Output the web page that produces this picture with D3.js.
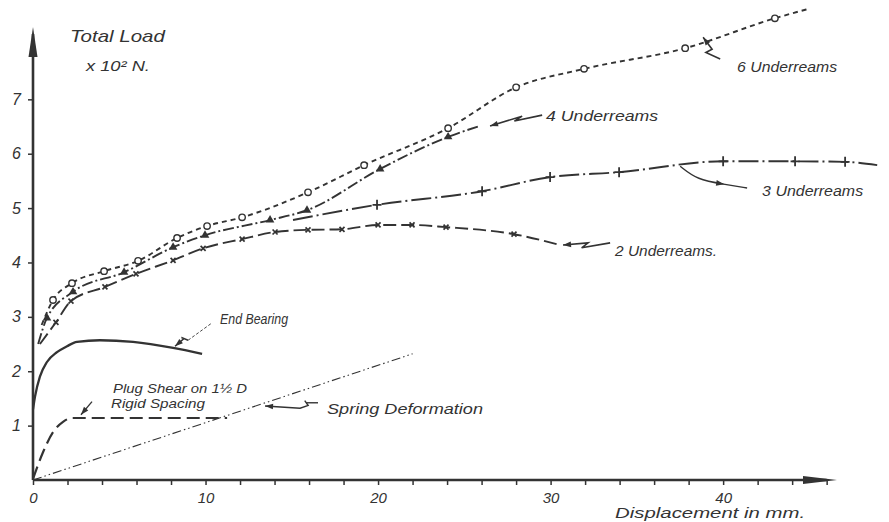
<!DOCTYPE html>
<html>
<head>
<meta charset="utf-8">
<script src="https://cdn.jsdelivr.net/npm/d3@7/dist/d3.min.js"></script>
<style>
  html, body { margin: 0; padding: 0; background: #ffffff; }
  svg { display: block; }
  text { font-family: "Liberation Sans", "DejaVu Sans", sans-serif; font-style: italic; fill: #333; }
</style>
</head>
<body>
<svg id="chart" width="889" height="522"></svg>
<script>
// ---------------- DATA (displacement in mm, total load x10^2 N) ----------------
const yTickValues = [1, 2, 3, 4, 5, 6, 7];
const xTickValues = [0, 2, 4, 6, 8, 10, 12, 14, 16, 18, 20, 22, 24, 26, 28, 30, 32, 34, 36, 38, 40, 42, 44, 46];
const xTickLabels = ["0", "10", "20", "30", "40"];

const sixUnderreams = [
  [0.5, 2.85], [1.16, 3.31], [2.26, 3.62], [4.12, 3.84], [6.09, 4.03], [8.35, 4.45],
  [10.09, 4.67], [12.12, 4.83], [15.94, 5.29], [19.19, 5.79], [24.06, 6.47],
  [28.0, 7.22], [31.94, 7.56], [37.8, 7.94], [43.0, 8.49], [44.9, 8.66]
];
const sixMarked = [1, 1, 1, 1, 1, 1, 1, 1, 1, 1, 1, 1, 1, 1, 1, 0].map((m, i) => (i === 0 ? 0 : m));

const fourUnderreams = [
  [0.3, 2.5], [0.81, 2.98], [2.32, 3.46], [5.28, 3.82], [8.12, 4.28], [9.97, 4.5],
  [13.74, 4.78], [15.88, 4.96], [20.12, 5.72], [24.06, 6.31], [25.9, 6.51]
];
const fourMarked = [0, 1, 1, 1, 1, 1, 1, 1, 1, 1, 0];

const threeUnderreams = [
  [15.07, 4.78], [19.94, 5.06], [26.03, 5.31], [29.97, 5.57], [33.97, 5.66],
  [40.0, 5.86], [44.17, 5.86], [47.07, 5.85], [48.93, 5.79]
];
const threeMarked = [0, 1, 1, 1, 1, 1, 1, 1, 0];

const twoUnderreams = [
  [0.4, 2.5], [1.33, 2.9], [2.2, 3.29], [4.17, 3.55], [5.97, 3.79], [8.12, 4.04],
  [9.86, 4.26], [12.12, 4.43], [14.03, 4.56], [15.94, 4.6], [17.91, 4.61],
  [20.0, 4.69], [21.97, 4.69], [23.94, 4.65], [27.88, 4.52], [30.55, 4.32]
];
const twoMarked = [0, 1, 1, 1, 1, 1, 1, 1, 1, 1, 1, 1, 1, 1, 1, 0];

const endBearing = [
  [0, 1.3], [0.12, 1.54], [0.4, 1.9], [0.81, 2.17], [1.39, 2.35], [1.97, 2.46],
  [2.55, 2.54], [3.88, 2.57], [5.8, 2.54], [8.12, 2.43], [9.8, 2.32]
];

const plugShear = [
  [0, 0.02], [0.58, 0.51], [1.16, 0.88], [1.74, 1.07], [2.26, 1.14], [2.72, 1.14], [11.25, 1.14]
];

const springDeformation = [[0, 0], [22.0, 2.32]];

// ---------------- LAYOUT ----------------
const svg = d3.select("#chart");
const ink = "#333";
const x = d3.scaleLinear().domain([0, 46.6]).range([33, 837]);
const y = d3.scaleLinear().domain([0, 8.33]).range([480, 27]);

// axes
const xAxis = d3.axisBottom(x)
  .tickValues(xTickValues)
  .tickSize(5)
  .tickPadding(7)
  .tickFormat(d => (d % 10 === 0 ? xTickLabels[d / 10] : ""));
const gx = svg.append("g").attr("transform", `translate(0,${y(0)})`).call(xAxis);
gx.select(".domain").remove();
gx.selectAll(".tick line").attr("stroke", ink).attr("stroke-width", 1.5);
gx.selectAll(".tick text").attr("font-size", 15).attr("fill", ink)
  .style("font-family", "'Liberation Sans', sans-serif").style("font-style", "italic");

const yAxis = d3.axisLeft(y).tickValues(yTickValues).tickSize(5).tickPadding(7);
const gy = svg.append("g").attr("transform", `translate(${x(0)},0)`).call(yAxis);
gy.select(".domain").remove();
gy.selectAll(".tick line").attr("stroke", ink).attr("stroke-width", 1.5);
gy.selectAll(".tick text").attr("font-size", 16).attr("fill", ink)
  .style("font-family", "'Liberation Sans', sans-serif").style("font-style", "italic");

// axis lines with arrows
svg.append("line").attr("x1", x(0)).attr("y1", y(0)).attr("x2", x(0)).attr("y2", y(8.2))
  .attr("stroke", ink).attr("stroke-width", 2.6);
svg.append("path")
  .attr("d", `M${x(0)},${y(8.33)} L${x(0) - 4.5},${y(8.33) + 30} L${x(0) + 4.5},${y(8.33) + 30} Z`)
  .attr("fill", ink);
svg.append("line").attr("x1", x(0)).attr("y1", y(0)).attr("x2", x(46.0)).attr("y2", y(0))
  .attr("stroke", ink).attr("stroke-width", 2.6);
svg.append("path")
  .attr("d", `M${x(46.6)},${y(0)} L${x(46.6) - 34},${y(0) - 4} L${x(46.6) - 34},${y(0) + 4} Z`)
  .attr("fill", ink);

// series
const lineGen = d3.line().x(d => x(d[0])).y(d => y(d[1])).curve(d3.curveMonotoneX);

function drawSeries(data, dash, width) {
  svg.append("path").datum(data).attr("d", lineGen)
    .attr("fill", "none").attr("stroke", ink).attr("stroke-width", width)
    .attr("stroke-dasharray", dash).attr("stroke-linecap", "butt");
}
drawSeries(springDeformation, "9,3,1.5,3,1.5,3", 1.1);
drawSeries(plugShear, "13,6", 2.2);
drawSeries(endBearing, null, 2.3);
drawSeries(twoUnderreams, "13,5", 1.9);
drawSeries(threeUnderreams, "20,4,2,4", 1.9);
drawSeries(fourUnderreams, "11,3,2,3", 1.9);
drawSeries(sixUnderreams, "5,4", 1.9);

// markers
function marks(data, flags) { return data.filter((d, i) => flags[i]); }
svg.append("g").selectAll("circle").data(marks(sixUnderreams, sixMarked)).join("circle")
  .attr("cx", d => x(d[0])).attr("cy", d => y(d[1])).attr("r", 3.2)
  .attr("fill", "#fff").attr("stroke", ink).attr("stroke-width", 1.4);
svg.append("g").selectAll("path").data(marks(fourUnderreams, fourMarked)).join("path")
  .attr("transform", d => `translate(${x(d[0])},${y(d[1])})`)
  .attr("d", d3.symbol(d3.symbolTriangle, 32)).attr("fill", ink);
svg.append("g").selectAll("path").data(marks(threeUnderreams, threeMarked)).join("path")
  .attr("transform", d => `translate(${x(d[0])},${y(d[1])})`)
  .attr("d", "M-4.5,0H4.5M0,-5V5").attr("stroke", ink).attr("stroke-width", 1.8);
svg.append("g").selectAll("path").data(marks(twoUnderreams, twoMarked)).join("path")
  .attr("transform", d => `translate(${x(d[0])},${y(d[1])})`)
  .attr("d", "M-2.5,-2.5L2.5,2.5M-2.5,2.5L2.5,-2.5").attr("stroke", ink).attr("stroke-width", 1.7);

// leaders (data units)
const leaders = [
  { pts: [[38.84, 8.14], [39.36, 7.92], [39.0, 7.86], [39.83, 7.74]], w: 1.6 },
  { pts: [[26.49, 6.51], [28.35, 6.69], [27.9, 6.6], [29.51, 6.71]], w: 1.6 },
  { pts: [[37.51, 5.77], [38.5, 5.52], [40.06, 5.44], [41.39, 5.37]], w: 1.4, curve: true },
  { pts: [[30.72, 4.32], [32.17, 4.36], [31.8, 4.27], [33.45, 4.36]], w: 1.6 },
  { pts: [[8.23, 2.46], [8.75, 2.6], [8.6, 2.62], [8.99, 2.57]], w: 1.4 },
  { pts: [[8.99, 2.57], [10.38, 2.89]], w: 0.9, dash: "3,2" },
  { pts: [[3.42, 1.44], [2.78, 1.2]], w: 1.3 },
  { pts: [[13.45, 1.36], [15.48, 1.32], [15.95, 1.37], [15.75, 1.46]], w: 1.4 },
  { pts: [[15.83, 1.42], [16.52, 1.42]], w: 1.4 }
];
const leaderLine = d3.line().x(d => x(d[0])).y(d => y(d[1]));
leaders.forEach(l => {
  svg.append("path").datum(l.pts)
    .attr("d", l.curve ? leaderLine.curve(d3.curveBasis)(l.pts) : d3.line().x(d => x(d[0])).y(d => y(d[1]))(l.pts))
    .attr("fill", "none").attr("stroke", ink).attr("stroke-width", l.w)
    .attr("stroke-dasharray", l.dash || null);
});
// arrow heads at leader tips
const heads = [
  [[38.84, 8.14], [39.36, 7.92]],
  [[26.49, 6.51], [28.35, 6.69]],
  [[40.06, 5.44], [38.9, 5.5]],
  [[30.72, 4.32], [32.17, 4.36]],
  [[8.23, 2.46], [8.75, 2.6]],
  [[2.78, 1.2], [3.42, 1.44]],
  [[13.45, 1.36], [15.48, 1.32]]
];
heads.forEach(([tip, from]) => {
  const tx = x(tip[0]), ty = y(tip[1]);
  const a = Math.atan2(ty - y(from[1]), tx - x(from[0]));
  const L = 8, W = 2.8;
  const bx = tx - L * Math.cos(a), by = ty - L * Math.sin(a);
  svg.append("path")
    .attr("d", `M${tx},${ty} L${bx - W * Math.sin(a)},${by + W * Math.cos(a)} L${bx + W * Math.sin(a)},${by - W * Math.cos(a)} Z`)
    .attr("fill", ink);
});

// labels (data units)
const labels = [
  { t: "Total Load", p: [2.14, 8.05], s: 17, w: 95 },
  { t: "x 10² N.", p: [3.07, 7.52], s: 15, w: 64 },
  { t: "6 Underreams", p: [40.81, 7.5], s: 14, w: 100 },
  { t: "4 Underreams", p: [29.74, 6.6], s: 15, w: 112 },
  { t: "3 Underreams", p: [42.26, 5.22], s: 15, w: 101 },
  { t: "2 Underreams.", p: [33.74, 4.12], s: 15, w: 102 },
  { t: "End Bearing", p: [10.84, 2.87], s: 14, w: 68 },
  { t: "Plug Shear on 1½ D", p: [4.64, 1.6], s: 13, w: 134 },
  { t: "Rigid Spacing", p: [4.52, 1.32], s: 13, w: 94 },
  { t: "Spring  Deformation", p: [17.04, 1.21], s: 15, w: 156 },
  { t: "Displacement  in mm.", p: [33.74, -0.70], s: 15, w: 190 }
];
svg.append("g").selectAll("text").data(labels).join("text")
  .attr("x", d => x(d.p[0])).attr("y", d => y(d.p[1]))
  .attr("font-size", d => d.s)
  .attr("textLength", d => d.w).attr("lengthAdjust", "spacingAndGlyphs")
  .text(d => d.t);
</script>
</body>
</html>
